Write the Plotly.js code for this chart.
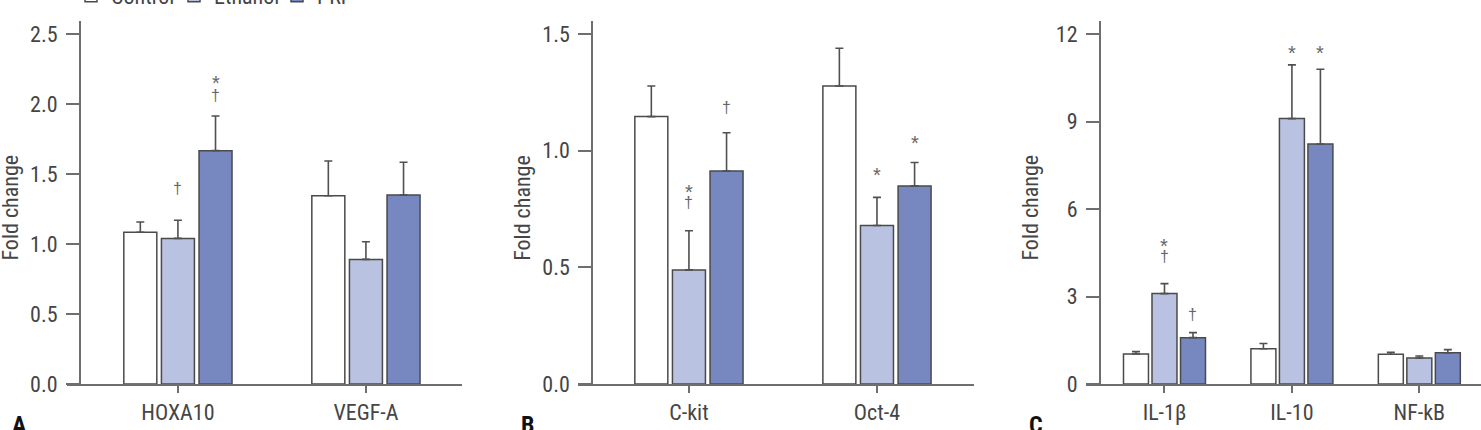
<!DOCTYPE html>
<html><head><meta charset="utf-8">
<script src="https://cdn.plot.ly/plotly-3.0.1.min.js"></script>
<style>html,body{margin:0;padding:0;background:#fff}#chart{width:1481px;height:430px}</style>
</head><body><div id="chart"></div>
<script>
// ---------- data ----------
const seriesNames = ['Control', 'Ethanol', 'PRP'];

const catsA = ['HOXA10', 'VEGF-A'];
const controlA = [1.084, 1.345];
const controlErrA = [0.073, 0.248];
const ethanolA = [1.04, 0.89];
const ethanolErrA = [0.13, 0.126];
const prpA = [1.667, 1.35];
const prpErrA = [0.247, 0.234];

const catsB = ['C-kit', 'Oct-4'];
const controlB = [1.146, 1.277];
const controlErrB = [0.131, 0.162];
const ethanolB = [0.489, 0.679];
const ethanolErrB = [0.168, 0.121];
const prpB = [0.913, 0.849];
const prpErrB = [0.164, 0.10];

const catsC = ['IL-1β', 'IL-10', 'NF-kB'];
const controlC = [1.03, 1.21, 1.02];
const controlErrC = [0.08, 0.18, 0.07];
const ethanolC = [3.10, 9.10, 0.89];
const ethanolErrC = [0.34, 1.84, 0.07];
const prpC = [1.59, 8.23, 1.07];
const prpErrC = [0.17, 2.56, 0.11];

// significance marks: [category index, series index, symbol, value]
const marksA = [[0, 2, '*', 2.18], [0, 2, '†', 2.06], [0, 1, '†', 1.40]];
const marksB = [[0, 1, '*', 0.841], [0, 1, '†', 0.776], [0, 2, '†', 1.186], [1, 1, '*', 0.913], [1, 2, '*', 1.05]];
const marksC = [[0, 1, '*', 4.88], [0, 1, '†', 4.36], [0, 2, '†', 2.40], [1, 1, '*', 11.47], [1, 2, '*', 11.47]];

const panelLetters = ['A', 'B', 'C'];
const yTitle = 'Fold change';

// ---------- styling / geometry ----------
const W = 1481, H = 430;
const FONT = "'Roboto Condensed', 'Liberation Sans', Arial, sans-serif";
const TXT = '#454545';
const AX = '#6e6e6e';
const fills = ['#ffffff', '#b9c3e1', '#7788c0'];
const OUT = '#4a4a4a';

const panels = [
  {cats: catsA, vals: [controlA, ethanolA, prpA], errs: [controlErrA, ethanolErrA, prpErrA], marks: marksA,
   x0: 67, x1: 462, ypos: 80, xr: [-0.59, 1.511], ytop: 2.593, dtick: 0.5, fmt: '.1f', step: 0.2, bw: 0.1755, letterX: 10},
  {cats: catsB, vals: [controlB, ethanolB, prpB], errs: [controlErrB, ethanolErrB, prpErrB], marks: marksB,
   x0: 578, x1: 974, ypos: 592.3, xr: [-0.59, 1.516], ytop: 1.5557, dtick: 0.5, fmt: '.1f', step: 0.2, bw: 0.1755, letterX: 519},
  {cats: catsC, vals: [controlC, ethanolC, prpC], errs: [controlErrC, ethanolErrC, prpErrC], marks: marksC,
   x0: 1086, x1: 1481, ypos: 1100, xr: [-0.616, 2.484], ytop: 12.446, dtick: 3, fmt: 'd', step: 0.2237, bw: 0.196, letterX: 1027}
];
const yTopPx = 21, yBotPx = 384;
const titleOffsetPx = 70.5;   // distance of the y-title centre left of the y axis line
const titleCenterPx = 208;

const data = [];
const annotations = [];
const layout = {
  width: W, height: H,
  margin: {l: 0, r: 0, t: 0, b: 0, autoexpand: false},
  paper_bgcolor: '#fff', plot_bgcolor: 'rgba(0,0,0,0)',
  font: {family: FONT, color: TXT, size: 22},
  barmode: 'overlay',
  showlegend: true,
  legend: {orientation: 'h', x: 71 / W, xanchor: 'left', y: 1 + 4 / H, yanchor: 'middle',
           entrywidth: 58, entrywidthmode: 'pixels',
           font: {family: FONT, size: 22, color: TXT}, bgcolor: 'rgba(0,0,0,0)', traceorder: 'normal'},
  annotations: annotations
};

panels.forEach((p, i) => {
  const sfx = i === 0 ? '' : String(i + 1);
  const xa = 'xaxis' + sfx, ya = 'yaxis' + sfx;
  layout[xa] = {
    domain: [p.x0 / W, p.x1 / W], anchor: 'y' + sfx, type: 'category', categoryarray: p.cats,
    range: p.xr, showline: true, linecolor: AX, linewidth: 2, ticks: 'outside', ticklen: 7, tickwidth: 2,
    tickcolor: AX, showgrid: false, zeroline: false, fixedrange: true, tickfont: {size: 22, color: TXT},
    ticklabelstandoff: 1
  };
  layout[ya] = {
    domain: [1 - yBotPx / H, 1 - yTopPx / H], anchor: 'free', position: p.ypos / W,
    range: [0, p.ytop], tick0: 0, dtick: p.dtick, tickformat: p.fmt, showline: true, linecolor: AX, linewidth: 2,
    ticks: 'outside', ticklen: 13, tickwidth: 2, tickcolor: AX, showgrid: false, zeroline: false, fixedrange: true,
    tickfont: {size: 22, color: TXT}, ticklabelstandoff: 4
  };
  for (let s = 0; s < 3; s++) {
    data.push({
      type: 'bar', x: p.cats, y: p.vals[s], xaxis: 'x' + sfx, yaxis: 'y' + sfx,
      name: seriesNames[s], legendgroup: seriesNames[s], showlegend: i === 0,
      width: p.bw, offset: (s - 1) * p.step - p.bw / 2,
      marker: {color: fills[s], line: {color: OUT, width: 1.5}},
      error_y: {type: 'data', array: p.errs[s], arrayminus: p.errs[s].map(() => 0), symmetric: false,
                color: '#505050', thickness: 1.6, width: 4},
      hoverinfo: 'skip'
    });
  }
  p.marks.forEach(m => {
    annotations.push({
      xref: 'x' + sfx, yref: 'y' + sfx, x: m[0] + (m[1] - 1) * p.step, y: m[3],
      text: m[2], showarrow: false, xanchor: 'center', yanchor: 'middle',
      font: {family: 'Liberation Sans, Arial, sans-serif', size: m[2] === '*' ? 20 : 16, color: '#666'},
      yshift: m[2] === '*' ? -4 : 0
    });
  });
  // y-axis title
  annotations.push({
    xref: 'paper', yref: 'paper', x: (p.ypos - titleOffsetPx) / W, y: 1 - titleCenterPx / H,
    xanchor: 'center', yanchor: 'middle', textangle: -90, showarrow: false,
    text: yTitle, font: {family: FONT, size: 22, color: TXT}
  });
  // panel letter
  annotations.push({
    xref: 'paper', yref: 'paper', x: p.letterX / W, y: 1 - 409 / H, xanchor: 'left', yanchor: 'top',
    text: '<b>' + panelLetters[i] + '</b>', showarrow: false,
    font: {family: FONT, size: 24, color: '#111'}
  });
});

Plotly.newPlot('chart', data, layout, {staticPlot: true, displayModeBar: false});
</script></body></html>
